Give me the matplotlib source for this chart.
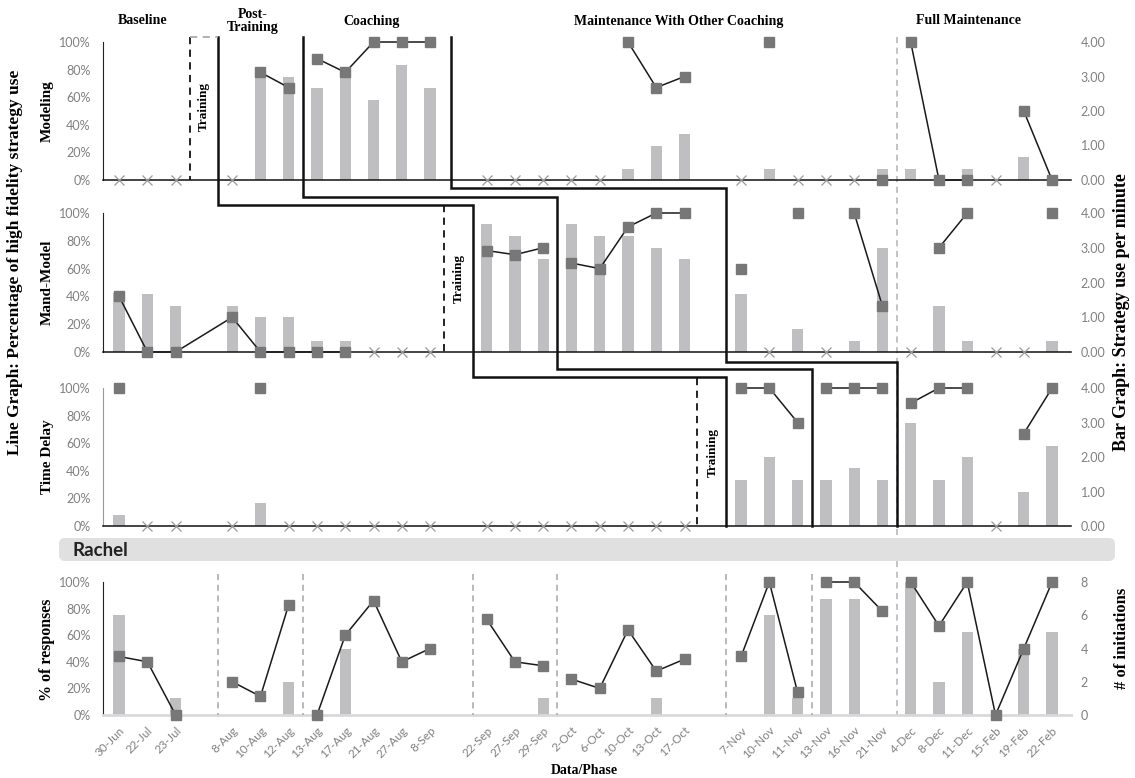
import numpy as np
import matplotlib.pyplot as plt
import matplotlib.transforms as mtransforms
from matplotlib.lines import Line2D
from matplotlib.patches import FancyBboxPatch

# --- datos ---
sessions = ['30-Jun', '22-Jul', '23-Jul', '8-Aug', '10-Aug', '12-Aug', '13-Aug', '17-Aug',
            '21-Aug', '27-Aug', '8-Sep', '22-Sep', '27-Sep', '29-Sep', '2-Oct', '6-Oct',
            '10-Oct', '13-Oct', '17-Oct', '7-Nov', '10-Nov', '11-Nov', '13-Nov', '16-Nov',
            '21-Nov', '4-Dec', '8-Dec', '11-Dec', '15-Feb', '19-Feb', '22-Feb']
gap_after = [2, 10, 18]  # huecos (Training) despues de estas sesiones

N = None
# % de uso de alta fidelidad (linea) y estrategias por minuto (barras)
modeling_pct = [N, N, N, N, 78, 67, 88, 78, 100, 100, 100, N, N, N, N, N,
                100, 67, 75, N, 100, N, N, N, 0, 100, 0, 0, N, 50, 0]
modeling_rate = [0, 0, 0, 0, 3.0, 3.0, 2.67, 3.0, 2.33, 3.33, 2.67, 0, 0, 0, 0, 0,
                 0.33, 1.0, 1.33, 0, 0.33, 0, 0, 0, 0.33, 0.33, 0, 0.33, 0, 0.67, 0]

mand_pct = [40, 0, 0, 25, 0, 0, 0, 0, N, N, N, 73, 70, 75, 64, 60,
            90, 100, 100, 60, N, 100, N, 100, 33, N, 75, 100, N, N, 100]
mand_rate = [1.71, 1.67, 1.33, 1.33, 1.0, 1.0, 0.33, 0.33, 0, 0, 0, 3.67, 3.33, 2.67, 3.67, 3.33,
             3.33, 3.0, 2.67, 1.67, 0, 0.67, 0, 0.33, 3.0, 0, 1.33, 0.33, 0, 0, 0.33]

delay_pct = [100, N, N, N, 100, N, N, N, N, N, N, N, N, N, N, N,
             N, N, N, 100, 100, 75, 100, 100, 100, 89, 100, 100, N, 67, 100]
delay_rate = [0.33, 0, 0, 0, 0.67, 0, 0, 0, 0, 0, 0, 0, 0, 0, 0, 0,
              0, 0, 0, 1.33, 2.0, 1.33, 1.33, 1.67, 1.33, 3.0, 1.33, 2.0, 0, 1.0, 2.33]

rachel_pct = [44, 40, 0, 25, 14, 83, 0, 60, 86, 40, 50, 72, 40, 37, 27, 20,
              64, 33, 42, 44, 100, 17, 100, 100, 78, 100, 67, 100, 0, 50, 100]
rachel_init = [6, 0, 1, 0, 0, 2, 0, 4, 0, 0, 0, 0, 0, 1, 0, 0,
               0, 1, 0, 0, 6, 1, 7, 7, 0, 8, 2, 5, 0, 4, 5]

phases = ['Baseline', 'Post-\nTraining', 'Coaching', 'Maintenance With Other Coaching',
          'Full Maintenance']

# --- estilo ---
plt.rcParams['font.family'] = ['Lato', 'DejaVu Sans']
SERIF = 'Liberation Serif'
BAR = '#bfbfc2'
SQ = '#777777'
TICK = '#808080'
W, H = 1135, 778

pos = np.arange(len(sessions)) + np.searchsorted(gap_after, np.arange(len(sessions)))
XMIN, XMAX = -0.57, 33.67

fig = plt.figure(figsize=(W / 100, H / 100), dpi=100)


def fy(py):
    return 1 - py / H


def make_ax(top, bottom):
    return fig.add_axes([103 / W, fy(bottom), (1071 - 103) / W, (bottom - top) / H])


def panel(ax, pct, rate, breaks, rmax, rticks, rfmt):
    ax2 = ax.twinx()
    ax2.bar(pos, rate, width=0.4, color=BAR)
    ax2.set_ylim(0, rmax)
    ax2.set_yticks(rticks)
    ax2.set_yticklabels([rfmt.format(t) for t in rticks])
    ax2.tick_params(axis='y', length=0, pad=7, labelcolor=TICK, labelsize=9)
    for s in ax2.spines.values():
        s.set_visible(False)
    ax.set_zorder(ax2.get_zorder() + 1)
    ax.patch.set_visible(False)

    y = np.array([np.nan if v is None else v for v in pct], float)
    edges = [-1] + breaks + [40]
    for a, b in zip(edges[:-1], edges[1:]):
        m = (pos > a) & (pos < b)
        ax.plot(pos[m], y[m], '-', color='#1a1a1a', lw=1.1, marker='s', ms=6.5,
                mfc=SQ, mec=SQ, clip_on=False, zorder=3)
    nx = np.isnan(y)
    if nx.any():
        ax.plot(pos[nx], np.zeros(nx.sum()), 'x', color='#9a9a9a', ms=7, mew=0.9,
                clip_on=False, zorder=3)

    ax.set_xlim(XMIN, XMAX)
    ax.set_ylim(0, 100)
    ax.set_yticks(range(0, 101, 20))
    ax.set_yticklabels([f'{t}%' for t in range(0, 101, 20)])
    ax.tick_params(axis='y', length=0, pad=9, labelcolor=TICK, labelsize=9)
    ax.spines['top'].set_visible(False)
    ax.spines['right'].set_visible(False)
    return ax2


ax1 = make_ax(42, 180)
ax2 = make_ax(213, 352)
ax3 = make_ax(388, 526)
ax4 = make_ax(582, 715)

panel(ax1, modeling_pct, modeling_rate, [3.5, 6.5, 11.75, 27.5], 4, [0, 1, 2, 3, 4], '{:.2f}')
panel(ax2, mand_pct, mand_rate, [11.5, 12.5, 15.5, 21.45, 27.5], 4, [0, 1, 2, 3, 4], '{:.2f}')
panel(ax3, delay_pct, delay_rate, [20.45, 21.45, 24.5, 27.5], 4, [0, 1, 2, 3, 4], '{:.2f}')
panel(ax4, rachel_pct, rachel_init, [3.5, 6.5, 12.5, 15.5, 21.45, 24.5, 27.5], 8, [0, 2, 4, 6, 8], '{:d}')

for ax in (ax1, ax2, ax3):
    ax.set_xticks([])
    ax.spines['left'].set_color('#222222')
    ax.spines['bottom'].set_color('#111111')
    ax.spines['bottom'].set_linewidth(1.1)
ax3.spines['left'].set_color('#999999')

ax4.spines['bottom'].set_color('#d9d9d9')
ax4.spines['bottom'].set_linewidth(2)
ax4.spines['left'].set_color('#222222')
ax4.set_xticks(pos)
ax4.set_xticklabels(sessions, rotation=45, ha='right', rotation_mode='anchor')
ax4.tick_params(axis='x', length=0, pad=7, labelcolor=TICK, labelsize=8.5)

# --- lineas de cambio de fase ---
bt = mtransforms.blended_transform_factory(ax1.transData, fig.transFigure)


def fline(xs, ys, **kw):
    fig.add_artist(Line2D(xs, [fy(v) for v in ys], transform=bt, **kw))


solid = dict(color='#111111', lw=1.8, solid_joinstyle='miter')
fline([3.5, 3.5, 12.5, 12.5, 21.45, 21.45], [37, 205, 205, 377, 377, 526], **solid)
fline([6.5, 6.5, 15.5, 15.5, 24.5, 24.5], [37, 197, 197, 369, 369, 526], **solid)
fline([11.75, 11.75, 21.45, 21.45, 27.5, 27.5], [37, 188, 188, 362, 362, 526], **solid)

dash = dict(color='#111111', lw=1.3, ls=(0, (4, 3)))
fline([2.5, 2.5], [37, 180], **dash)
fline([2.5, 3.5], [37, 37], color='#aaaaaa', lw=1.3, ls=(0, (4, 3)))
fline([11.5, 11.5], [205, 352], **dash)
fline([20.45, 20.45], [378, 526], **dash)

# linea gris de Full Maintenance atraviesa todos los paneles
fline([27.5, 27.5], [37, 715], color='#b3b3b3', lw=1.1, ls=(0, (4, 3)), zorder=0.5)
for xv in [3.5, 6.5, 12.5, 15.5, 21.45, 24.5]:
    fline([xv, xv], [574, 715], color='#a6a6a6', lw=1.1, ls=(0, (4, 3)))

# textos "Training"
for ax, xv in ((ax1, 3), (ax2, 12), (ax3, 21)):
    ax.text(xv, 53, 'Training', rotation=90, ha='center', va='center',
            family=SERIF, weight='bold', fontsize=9.5)

# --- barra Rachel ---
fig.add_artist(FancyBboxPatch((0.59, (H - 561) / 100), 10.56, 0.23,
                              boxstyle='round,pad=0,rounding_size=0.06',
                              transform=fig.dpi_scale_trans, fc='#e0e0e0', ec='none'))
fig.text(72 / W, fy(550), 'Rachel', ha='left', va='center', weight='bold',
         fontsize=13.5, color='#222222')

# --- titulos de fase y etiquetas ---
for txt, px in zip(phases, [143, 253, 372, 679, 968]):
    fig.text(px / W, fy(21), txt, ha='center', va='center', family=SERIF,
             weight='bold', fontsize=10, linespacing=0.95)

lab = dict(family=SERIF, weight='bold', rotation=90, ha='center', va='center')
fig.text(47 / W, fy(111), 'Modeling', fontsize=11, **lab)
fig.text(47 / W, fy(282), 'Mand-Model', fontsize=11, **lab)
fig.text(47 / W, fy(457), 'Time Delay', fontsize=11, **lab)
fig.text(47 / W, fy(650), '% of responses', fontsize=11.5, **lab)
fig.text(15 / W, fy(262), 'Line Graph: Percentage of high fidelity strategy use', fontsize=12.5, **lab)
fig.text(1122 / W, fy(312), 'Bar Graph: Strategy use per minute', fontsize=13, **lab)
fig.text(1122 / W, fy(638), '# of initiations', fontsize=12, **lab)
fig.text(584 / W, fy(771), 'Data/Phase', family=SERIF, weight='bold', fontsize=10,
         ha='center', va='center')

fig.savefig('out.png', dpi=100)
